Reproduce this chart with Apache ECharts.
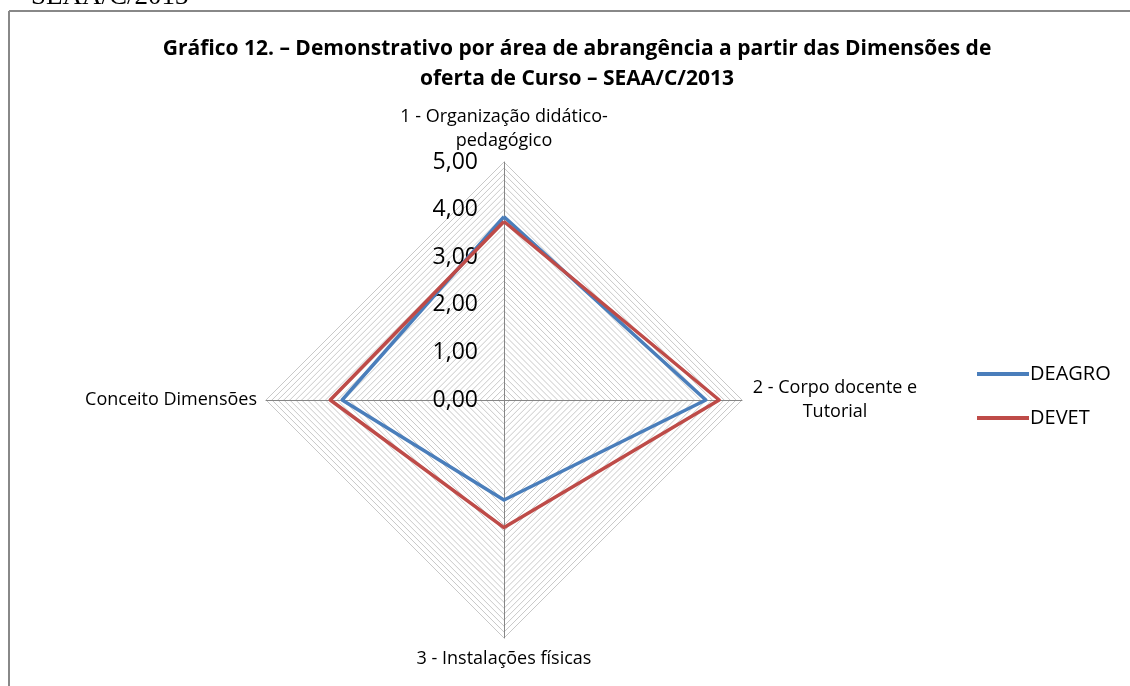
<!DOCTYPE html>
<html>
<head>
<meta charset="utf-8">
<script src="https://cdn.jsdelivr.net/npm/echarts@6/dist/echarts.min.js"></script>
<style>
html, body { margin: 0; padding: 0; background: #fff; }
#main { width: 1130px; height: 686px; }
</style>
</head>
<body>
<div id="main"></div>
<script>
// dados do gráfico (ordem original, sentido horário a partir do topo)
var dimensoes = ['1 - Organização didático-\npedagógico', '2 - Corpo docente e\nTutorial', '3 - Instalações físicas', 'Conceito Dimensões'];
var deagro = [3.85, 4.24, 2.10, 3.40];
var devet = [3.75, 4.52, 2.68, 3.65];
var nomesSeries = ['DEAGRO', 'DEVET'];
var coresSeries = ['#4a7ebb', '#be4b48'];
var rotulosEixo = ['0,00', '1,00', '2,00', '3,00', '4,00', '5,00'];
var valorMax = 5;

// o ECharts distribui os eixos no sentido anti-horário: reordena
var ordem = [0, 3, 2, 1];
function reordena(arr) { return ordem.map(function (i) { return arr[i]; }); }

var fonte = '"Open Sans", "Noto Sans", sans-serif';
// largura do bloco para centralizar as linhas dos nomes com quebra
var larguraNome = { '1': 215, '2': 168 };

var myChart = echarts.init(document.getElementById('main'));
var option = {
	animation: false,
	title: {
		text: 'Gráfico 12. – Demonstrativo por área de abrangência a partir das Dimensões de\noferta de Curso – SEAA/C/2013',
		left: 572,
		top: 29,
		textAlign: 'center',
		textStyle: { fontFamily: fonte, fontSize: 21, fontWeight: 'bold', color: '#000', lineHeight: 30 }
	},
	legend: {
		orient: 'vertical',
		left: 972,
		top: 355,
		itemWidth: 52,
		itemHeight: 4,
		itemGap: 16,
		icon: 'rect',
		data: nomesSeries,
		textStyle: { fontFamily: fonte, fontSize: 20, lineHeight: 28, color: '#000', padding: [0, 0, 0, -4] }
	},
	graphic: [
		{ type: 'line', shape: { x1: 9, y1: 11, x2: 1130, y2: 11 }, style: { stroke: '#888', lineWidth: 2 } },
		{ type: 'line', shape: { x1: 9, y1: 11, x2: 9, y2: 686 }, style: { stroke: '#888', lineWidth: 2 } },
		{ type: 'text', left: 31, top: -17, style: { text: 'SEAA/C/2013', font: '27px "Liberation Serif", serif', fill: '#000' } }
	],
	radar: [{
		center: [504, 400],
		radius: 238,
		shape: 'polygon',
		splitNumber: 40,
		indicator: reordena(dimensoes).map(function (n) { return { name: n, max: valorMax, min: 0 }; }),
		axisName: {
			color: '#000',
			fontFamily: fonte,
			fontSize: 18,
			lineHeight: 24,
			formatter: function (nome) {
				if (nome.indexOf('\n') < 0) return nome;
				return nome.split('\n').map(function (l) { return '{c' + nome.charAt(0) + '|' + l + '}'; }).join('\n');
			},
			rich: {
				c1: { width: larguraNome['1'], align: 'center', fontFamily: fonte, fontSize: 18, lineHeight: 24, color: '#000' },
				c2: { width: larguraNome['2'], align: 'center', fontFamily: fonte, fontSize: 18, lineHeight: 24, color: '#000' }
			}
		},
		nameGap: 9,
		axisLine: { lineStyle: { color: '#868686', width: 1 } },
		splitLine: { lineStyle: { color: '#c8c8c8', width: 1 } },
		splitArea: { show: false },
		axisTick: { show: false },
		axisLabel: { show: false }
	}, {
		center: [504, 400],
		radius: 238,
		shape: 'polygon',
		splitNumber: rotulosEixo.length - 1,
		indicator: reordena(dimensoes).map(function (n, i) {
			return { name: '', max: valorMax, min: 0, axisLabel: { show: i === 0 } };
		}),
		axisName: { show: false },
		axisLine: { show: false },
		splitLine: { show: false },
		splitArea: { show: false },
		axisTick: { show: false },
		axisLabel: {
			show: false,
			color: '#000',
			fontFamily: fonte,
			fontSize: 23,
			margin: 26,
			showMinLabel: true,
			showMaxLabel: true,
			formatter: function (v) { return rotulosEixo[Math.round(v)] || ''; }
		}
	}],
	series: [{
		type: 'radar',
		radarIndex: 0,
		symbol: 'none',
		data: [
			{ name: nomesSeries[0], value: reordena(deagro), lineStyle: { color: coresSeries[0], width: 3.5 }, itemStyle: { color: coresSeries[0] } },
			{ name: nomesSeries[1], value: reordena(devet), lineStyle: { color: coresSeries[1], width: 3.5 }, itemStyle: { color: coresSeries[1] } }
		]
	}]
};
myChart.setOption(option);
</script>
</body>
</html>
